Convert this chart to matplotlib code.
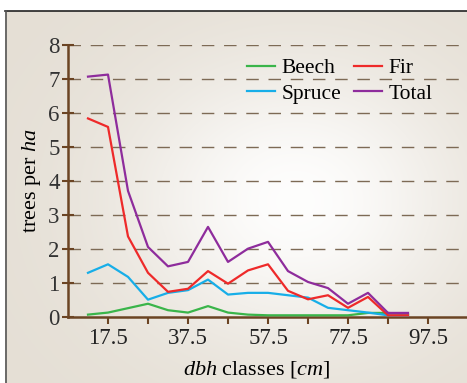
import numpy as np
import matplotlib.pyplot as plt
from matplotlib.ticker import FixedLocator

plt.rcParams['font.family'] = 'Liberation Serif'
plt.rcParams['mathtext.fontset'] = 'custom'
plt.rcParams['mathtext.rm'] = 'Liberation Serif'
plt.rcParams['mathtext.it'] = 'Liberation Serif:italic'

# diameter class midpoints [cm]
dbh = [12.5, 17.5, 22.5, 27.5, 32.5, 37.5, 42.5, 47.5, 52.5,
       57.5, 62.5, 67.5, 72.5, 77.5, 82.5, 87.5, 92.5]

beech = [0.07, 0.13, 0.26, 0.39, 0.20, 0.13, 0.32, 0.13, 0.07,
         0.05, 0.05, 0.05, 0.05, 0.05, 0.12, 0.12, 0.07]
fir = [5.84, 5.59, 2.37, 1.30, 0.74, 0.83, 1.35, 0.98, 1.37,
       1.55, 0.77, 0.52, 0.64, 0.27, 0.59, 0.05, 0.05]
spruce = [1.30, 1.55, 1.18, 0.51, 0.71, 0.79, 1.10, 0.66, 0.71,
          0.71, 0.64, 0.57, 0.27, 0.20, 0.13, 0.05, 0.05]
total = [7.07, 7.13, 3.71, 2.06, 1.49, 1.62, 2.65, 1.62, 2.01,
         2.21, 1.35, 1.03, 0.85, 0.39, 0.71, 0.12, 0.12]

W, H = 467, 383
fig = plt.figure(figsize=(W / 100, H / 100), dpi=100)
fig.patch.set_facecolor('white')

# beige paper with a soft white glow in the middle
bg = fig.add_axes([5 / W, 0, (W - 5) / W, (H - 11) / H])
yy, xx = np.mgrid[0:H - 11, 0:W - 5]
d2 = ((xx - 290) / 170.0) ** 2 + ((yy - 190) / 140.0) ** 2
glow = np.exp(-d2)[..., None]
beige = np.array([229, 223, 213]) / 255.0
img = beige + (1 - beige) * glow * 0.95
bg.imshow(img, aspect='auto', interpolation='bilinear')
bg.set_axis_off()
fig.add_artist(plt.Line2D([5 / W, 1], [1 - 11 / H, 1 - 11 / H], color='#222222', lw=1.2))
fig.add_artist(plt.Line2D([5.5 / W, 5.5 / W], [0, 1 - 11 / H], color='#555555', lw=1.2))

brown = '#6b4423'
ax = fig.add_axes([68 / W, 66 / H, 400 / W, 272 / H])
ax.patch.set_alpha(0)

ax.plot(dbh, beech, color='#3ab54a', lw=1.6, label='Beech', zorder=3)
ax.plot(dbh, spruce, color='#17aee8', lw=1.6, label='Spruce', zorder=3)
ax.plot(dbh, fir, color='#ee2a2a', lw=1.6, label='Fir', zorder=3)
ax.plot(dbh, total, color='#8e2c9c', lw=1.6, label='Total', zorder=3)

ax.set_xlim(7.5, 107.5)
ax.set_ylim(0, 8)
ax.set_yticks(range(0, 9))
ax.set_xticks([17.5, 37.5, 57.5, 77.5, 97.5])
ax.set_xticklabels(['17.5', '37.5', '57.5', '77.5', '97.5'])
ax.xaxis.set_minor_locator(FixedLocator([27.5, 47.5, 67.5, 87.5]))

for y in range(1, 9):
    ax.axhline(y, color='#7d6a55', lw=1.0, linestyle=(0, (9, 7)), zorder=1)

for s in ['top', 'right']:
    ax.spines[s].set_visible(False)
for s in ['left', 'bottom']:
    ax.spines[s].set_color(brown)
    ax.spines[s].set_linewidth(1.8)

ax.tick_params(axis='y', direction='inout', length=8, width=1.5, color=brown,
               labelsize=16.5, pad=2, labelcolor='#333333')
ax.tick_params(axis='x', which='both', direction='out', length=5, width=1.5,
               color=brown, labelsize=16.5, pad=3, labelcolor='#222222')

ax.set_xlabel(r'$dbh$ classes [$cm$]', fontsize=16, labelpad=6)
ax.xaxis.set_label_coords((257 - 68) / 400, -0.155)
ax.set_ylabel(r'trees per $ha$', fontsize=16, labelpad=4)

ax.legend(loc='upper left', bbox_to_anchor=(247 / W, 1 - 58 / H),
          bbox_transform=fig.transFigure, ncol=2, frameon=False, fontsize=15.5,
          handlelength=1.3, handletextpad=0.3, columnspacing=0.6,
          labelspacing=0.25, borderpad=0, borderaxespad=0)

fig.savefig('out.png', dpi=100)
